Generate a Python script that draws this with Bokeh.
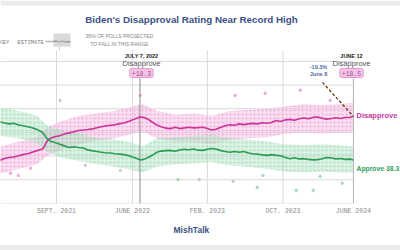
import pandas as pd
from bokeh.plotting import figure
from bokeh.layouts import column
from bokeh.models import Range1d, FixedTicker, Label, BoxAnnotation, PolyAnnotation, Title, Div
from bokeh.embed import file_html
from bokeh.resources import INLINE

# ---------------- data ----------------
dates = ["2021-02-01", "2021-02-15", "2021-03-01", "2021-03-15", "2021-04-01", "2021-04-15",
         "2021-05-01", "2021-05-15", "2021-06-01", "2021-06-15", "2021-07-01", "2021-07-15",
         "2021-08-01", "2021-08-15", "2021-08-22", "2021-09-01", "2021-09-08", "2021-09-15",
         "2021-10-01", "2021-10-15", "2021-11-01", "2021-11-15", "2021-12-01", "2021-12-15",
         "2022-01-01", "2022-01-15", "2022-02-01", "2022-02-15", "2022-03-01", "2022-03-15",
         "2022-04-01", "2022-04-15", "2022-05-01", "2022-05-15", "2022-06-01", "2022-06-15",
         "2022-07-01", "2022-07-07", "2022-07-20", "2022-08-01", "2022-08-15", "2022-09-01",
         "2022-09-15", "2022-10-01", "2022-10-15", "2022-11-01", "2022-11-15", "2022-12-01",
         "2022-12-15", "2023-01-01", "2023-01-15", "2023-02-01", "2023-02-15", "2023-03-01",
         "2023-03-15", "2023-04-01", "2023-04-15", "2023-05-01", "2023-05-15", "2023-06-01",
         "2023-06-15", "2023-07-01", "2023-07-15", "2023-08-01", "2023-08-15", "2023-09-01",
         "2023-09-15", "2023-10-01", "2023-10-15", "2023-11-01", "2023-11-15", "2023-12-01",
         "2023-12-15", "2024-01-01", "2024-01-15", "2024-02-01", "2024-02-15", "2024-03-01",
         "2024-03-15", "2024-04-01", "2024-04-15", "2024-05-01", "2024-05-15", "2024-06-01",
         "2024-06-12"]
approve = [53.8, 54.6, 54.9, 54.2, 54.4, 54.0, 53.6, 53.9, 53.1, 52.8, 52.4, 52.0,
           51.2, 50.3, 49.5, 47.6, 46.9, 46.3, 45.6, 45.0, 44.2, 43.6, 43.9, 43.6,
           43.4, 42.6, 42.2, 41.9, 41.6, 41.4, 41.3, 41.0, 40.8, 40.6, 40.1, 39.5,
           38.8, 38.3, 38.6, 39.3, 40.2, 41.6, 42.1, 42.3, 42.4, 42.0, 42.6, 42.9,
           42.7, 43.0, 42.5, 42.4, 42.9, 43.2, 43.0, 42.3, 41.9, 41.6, 41.9, 41.6,
           41.9, 41.3, 41.0, 40.8, 40.5, 40.3, 40.6, 40.3, 40.1, 39.4, 38.9, 39.3,
           38.8, 38.9, 38.6, 38.4, 38.5, 38.9, 39.4, 39.2, 38.8, 39.0, 38.6, 38.7,
           38.3]
disapprove = [36.5, 37.2, 38.0, 38.9, 38.2, 39.0, 39.4, 39.6, 40.1, 40.6, 41.0, 41.6,
              42.3, 42.9, 43.4, 46.0, 47.0, 47.6, 48.3, 48.6, 49.4, 49.8, 50.3, 50.8,
              51.0, 51.2, 51.5, 52.0, 52.4, 52.7, 53.0, 53.2, 53.7, 54.0, 54.7, 55.4,
              56.2, 56.6, 56.3, 55.7, 54.5, 53.1, 52.4, 51.8, 51.6, 52.2, 51.6, 51.9,
              52.2, 51.9, 52.0, 52.2, 51.6, 51.0, 51.3, 52.2, 52.8, 53.2, 53.0, 53.6,
              53.3, 53.6, 53.8, 53.6, 54.1, 53.9, 54.2, 55.0, 54.6, 55.3, 55.5, 55.1,
              55.8, 56.1, 55.8, 56.4, 56.5, 56.0, 55.6, 55.9, 56.2, 55.9, 56.3, 56.4,
              56.8]

band_dates = ["2021-02-01", "2021-04-01", "2021-06-01", "2021-08-01", "2021-09-01", "2021-10-15",
              "2021-12-15", "2022-02-15", "2022-04-15", "2022-06-15", "2022-07-15", "2022-09-01",
              "2022-11-01", "2023-01-01", "2023-03-01", "2023-05-01", "2023-07-01", "2023-09-01",
              "2023-11-01", "2024-01-01", "2024-03-01", "2024-05-01", "2024-06-12"]
approve_lo = [48.0, 48.5, 47.5, 45.5, 42.0, 39.5, 38.0, 36.5, 35.5, 34.0, 33.0, 35.5,
              36.5, 37.0, 37.5, 36.0, 35.5, 34.5, 33.5, 33.0, 33.5, 33.0, 33.0]
approve_hi = [60.0, 60.5, 59.0, 57.0, 53.0, 51.0, 49.5, 47.5, 47.0, 45.5, 44.0, 47.5,
              48.0, 48.5, 49.0, 47.5, 47.0, 46.0, 45.0, 44.5, 45.0, 44.5, 44.0]
disapprove_lo = [31.0, 32.5, 34.5, 36.5, 40.0, 42.5, 45.0, 46.5, 47.5, 49.5, 50.5, 47.5,
                 46.0, 46.0, 45.0, 47.0, 47.5, 48.0, 49.5, 50.0, 49.5, 50.0, 50.5]
disapprove_hi = [42.0, 44.0, 46.0, 48.0, 52.0, 54.5, 57.0, 58.0, 59.0, 61.0, 62.0, 59.0,
                 57.5, 58.0, 57.0, 59.0, 59.5, 60.0, 61.0, 62.0, 61.5, 62.0, 62.5]

# a few scattered outlying polls
out_dates = ["2023-08-18", "2023-07-30", "2023-12-06", "2024-01-31", "2024-05-06", "2024-02-23",
             "2022-11-10", "2023-01-19", "2023-05-11", "2021-05-05", "2021-05-31", "2021-07-10",
             "2022-07-08", "2023-12-19", "2023-05-18", "2021-10-16", "2022-01-07", "2022-05-03",
             "2024-03-27", "2023-08-25"]
out_values = [31.8, 26.8, 25.5, 25.5, 28.5, 31.4, 30.1, 30.1, 29.3, 32.7, 31.8, 34.8,
              65.6, 67.8, 65.6, 63.5, 36.1, 33.9, 63.5, 66.5]
out_kind = ["a", "a", "a", "a", "a", "a", "a", "n", "n", "d", "d", "d",
            "d", "d", "d", "n", "n", "n", "d", "d"]

tick_dates = ["2021-10-04", "2022-06-12", "2023-02-15", "2023-10-23", "2024-06-12"]
tick_labels = ["SEPT. 2021", "JUNE 2022", "FEB. 2023", "OCT. 2023", "JUNE 2024"]
y_grid_values = [20, 30, 40, 50, 60, 70, 80]

peak_date = "2022-07-07"
last_date = "2024-06-12"
peak_net = "+18.3"
last_net = "+18.5"
last_approve = 38.3

# ---------------- helpers ----------------
def ms(d):
    return int((pd.Timestamp(d) - pd.Timestamp("1970-01-01")) // pd.Timedelta("1ms"))

x = [ms(d) for d in dates]
bx = [ms(d) for d in band_dates]
ox = [ms(d) for d in out_dates]
ticks = [ms(d) for d in tick_dates]

W, H = 400, 245          # figure; a 5px grey strip is stacked under it
FB = 203                 # frame bottom on the canvas (frame spans x 0..400, y 0..203)
PX_PER_DAY = 0.30233
PX_PER_PT = 2.366
DAY = 86400000

def sx(cx):
    return cx

def sy(cy):
    return FB - cy

x_start = ms("2021-04-01") + int(0.7 * DAY)
x_end = x_start + int(W / PX_PER_DAY * DAY)
y_start = 20.0
y_end = y_start + FB / PX_PER_PT
plot_top_value = y_start + (FB - 50) / PX_PER_PT   # value at the top edge of the grid area

p = figure(width=W, height=H, x_axis_type="datetime", y_axis_location=None,
           output_backend="svg", toolbar_location=None, title=None,
           min_border_left=0, min_border_right=0, min_border_top=0,
           min_border_bottom=H - FB)
p.x_range = Range1d(x_start, x_end)
p.y_range = Range1d(y_start - 0.05, y_end - 0.05)
p.outline_line_color = None
p.background_fill_color = "white"
p.border_fill_color = "white"
p.xgrid.visible = False
p.ygrid.visible = False

p.xaxis.ticker = FixedTicker(ticks=ticks)
p.xaxis.major_label_overrides = {t: l for t, l in zip(ticks, tick_labels)}
p.xaxis.axis_line_color = None
p.xaxis.major_tick_line_color = None
p.xaxis.minor_tick_line_color = None
p.xaxis.major_tick_in = 0
p.xaxis.major_tick_out = 0
p.xaxis.minor_tick_in = 0
p.xaxis.minor_tick_out = 0
p.xaxis.major_label_standoff = 4
p.xaxis.major_label_text_font = "Liberation Mono"
p.xaxis.major_label_text_font_size = "6.5px"
p.xaxis.major_label_text_color = "#8a8a8a"

# grid lines of the plotting area (which ends at the last date)
GRID = "#dadada"
p.segment(x0=[x_start] * len(y_grid_values), y0=y_grid_values,
          x1=[ms(last_date)] * len(y_grid_values), y1=y_grid_values,
          line_color=GRID, line_width=1)
p.segment(x0=ticks[:-1], y0=[y_start] * (len(ticks) - 1), x1=ticks[:-1],
          y1=[plot_top_value] * (len(ticks) - 1), line_color=GRID, line_width=1)

PINK_BAND = "#f3b3dd"
GREEN_BAND = "#addfc0"
PINK_LINE = "#cc3399"
GREEN_LINE = "#2b9c52"

p.varea(x=bx, y1=disapprove_lo, y2=disapprove_hi, fill_color=PINK_BAND, fill_alpha=0.45,
        hatch_pattern="dot", hatch_color="#e58cc8", hatch_alpha=0.6, hatch_scale=4)
p.varea(x=bx, y1=approve_lo, y2=approve_hi, fill_color=GREEN_BAND, fill_alpha=0.45,
        hatch_pattern="dot", hatch_color="#86cfa1", hatch_alpha=0.6, hatch_scale=4)

kind_color = {"a": "#9fd7b3", "d": "#eaa5d5", "n": "#c9c9c9"}
p.scatter(x=ox, y=out_values, size=2.5, color=[kind_color[k] for k in out_kind], alpha=0.9)

# annotation verticals
ann_top = y_start + (FB - 78) / PX_PER_PT
p.segment(x0=[ms(peak_date)], y0=[y_start], x1=[ms(peak_date)], y1=[ann_top],
          line_color="#8c8c8c", line_width=1)
p.segment(x0=[ms(last_date)], y0=[y_start], x1=[ms(last_date)], y1=[ann_top],
          line_color="#b5b5b5", line_width=1)

p.line(x=x, y=disapprove, line_color=PINK_LINE, line_width=1.6)
p.line(x=x, y=approve, line_color=GREEN_LINE, line_width=1.6)

# dashed pointer to the last value
p.segment(x0=[ms("2024-03-01") + DAY // 2], y0=[y_start + (FB - 82) / PX_PER_PT],
          x1=[ms(last_date)], y1=[disapprove[-1]],
          line_color="#6e4520", line_width=1.4, line_dash="3 2")

def lab(text, cx, cy, size, color, font="Liberation Sans", style="normal", align="center", **kw):
    p.add_layout(Label(x=sx(cx), y=sy(cy), x_units="screen", y_units="screen", text=text,
                       text_font=font, text_font_size=f"{size}px", text_color=color,
                       text_font_style=style, text_align=align, text_baseline="middle", **kw))

# grey strip at the top of the page
p.add_layout(BoxAnnotation(left=sx(0), right=sx(400), top=sy(0), bottom=sy(5),
                           left_units="screen", right_units="screen", top_units="screen",
                           bottom_units="screen", fill_color="#ebebeb", fill_alpha=1,
                           line_color=None))

# title
lab("Biden's Disapproval Rating Near Record High", 191, 18.5, 9.8, "#3b5284", style="bold")

# key
lab("KEY", -1, 42, 5.5, "#7a7a7a", font="Liberation Mono", align="left")
lab("ESTIMATE", 17, 42, 5.5, "#7a7a7a", font="Liberation Mono", align="left")
p.add_layout(BoxAnnotation(left=sx(53), right=sx(70), top=sy(33), bottom=sy(46),
                           left_units="screen", right_units="screen", top_units="screen",
                           bottom_units="screen", fill_color="#cfcfcf", fill_alpha=0.8,
                           line_color=None))
p.add_layout(PolyAnnotation(xs=[sx(v) for v in [45, 53, 56, 59, 62, 65, 70, 65, 62, 59, 56, 53]],
                            ys=[sy(v) for v in [41, 41, 40.5, 41.5, 40.5, 41.5, 41, 41.5, 40.5, 41.5, 40.5, 41]],
                            xs_units="screen", ys_units="screen", fill_alpha=0,
                            line_color="#111111", line_width=1.3))
p.add_layout(PolyAnnotation(xs=[sx(59), sx(59)], ys=[sy(46), sy(50)], xs_units="screen",
                            ys_units="screen", fill_alpha=0, line_color="#555555", line_width=1))
lab("95% OF POLLS PROJECTED", 119, 35.5, 5, "#858585")
lab("TO FALL IN THIS RANGE", 119, 43, 5, "#858585")

# peak annotation
lab("JULY 7, 2022", 141, 55, 5.5, "#222222", style="bold")
lab("Disapprove", 141, 63, 7.5, "#555555")
lab(peak_net, 141, 72.5, 6.5, "#a04c8c", font="Liberation Mono",
    background_fill_color="#f7c4e7", border_line_color="#e29bd0", padding=2, border_radius=2)

# latest annotation
lab("JUNE 12", 351, 55, 5.5, "#222222", style="bold")
lab("Disapprove", 351, 63, 7.5, "#555555")
lab(last_net, 351, 72.5, 6.5, "#a04c8c", font="Liberation Mono",
    background_fill_color="#f7c4e7", border_line_color="#e29bd0", padding=2, border_radius=2)
lab("-19.3%", 318, 66, 5.5, "#4e6ea6", style="bold")
lab("June 8", 318, 73, 5.5, "#4e6ea6", style="bold")

# end labels
lab("Disapprove", 356, 114.5, 7.5, "#c23a9a", style="bold", align="left")
lab(f"Approve {last_approve}", 356, 168, 6.8, "#2fa35a", style="bold", align="left")

# source line under the axis
p.add_layout(Title(text="MishTalk", align="left", offset=173, standoff=11,
                   text_font="Liberation Sans", text_font_size="8.5px",
                   text_font_style="bold", text_color="#3b5284"), "below")

strip = Div(text="", width=W, height=5, margin=0,
            styles={"background-color": "#ebebeb"})
page = column(p, strip, spacing=0)

open("out.html", "w").write(file_html(page, INLINE))
